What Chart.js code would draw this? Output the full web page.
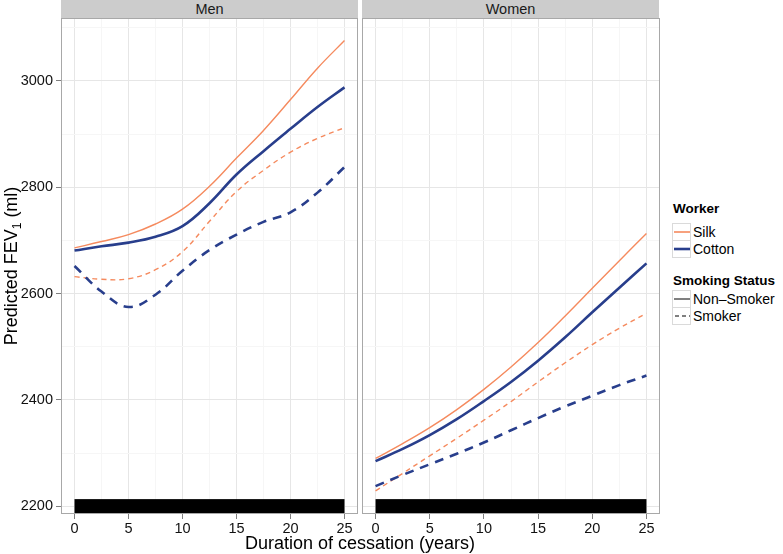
<!DOCTYPE html>
<html>
<head>
<meta charset="utf-8">
<script src="https://cdn.jsdelivr.net/npm/chart.js@4/dist/chart.umd.min.js"></script>
<style>
html,body{margin:0;padding:0;background:#fff;}
#wrap{position:relative;width:783px;height:554px;font-family:"Liberation Sans",Arial,Helvetica,sans-serif;color:#000;overflow:hidden;}
canvas{position:absolute;top:0;}
.strip{position:absolute;top:0;height:18px;background:#CCCCCC;text-align:center;font-size:14.5px;line-height:19px;color:#1a1a1a;}
#ytitle{position:absolute;left:-139.5px;top:255px;width:300px;height:22px;line-height:22px;text-align:center;font-size:18px;transform:rotate(-90deg);white-space:nowrap;}
#ytitle sub{font-size:12px;vertical-align:-4px;line-height:0;}
#xtitle{position:absolute;left:160px;top:532px;width:400px;height:22px;line-height:22px;text-align:center;font-size:18px;white-space:nowrap;}
#legend{position:absolute;left:660px;top:190px;}
</style>
</head>
<body>
<div id="wrap">
  <canvas id="men" width="360" height="554" style="left:0px;width:360px;height:554px"></canvas>
  <canvas id="women" width="298" height="554" style="left:362px;width:298px;height:554px"></canvas>
  <div class="strip" style="left:61px;width:297px">Men</div>
  <div class="strip" style="left:362px;width:297px">Women</div>
  <div id="ytitle">Predicted FEV<sub>1</sub> (ml)</div>
  <div id="xtitle">Duration of cessation (years)</div>
  <svg id="legend" width="123" height="150" xmlns="http://www.w3.org/2000/svg" font-family="Liberation Sans, Arial, Helvetica, sans-serif">
    <text x="13" y="23" font-size="13.5" font-weight="bold" fill="#000">Worker</text>
    <rect x="12.5" y="33.5" width="18" height="17" fill="#fff" stroke="#DADADA" stroke-width="1"/>
    <line x1="14" y1="42" x2="30" y2="42" stroke="#F58A5E" stroke-width="1.6"/>
    <text x="33" y="47" font-size="14" fill="#000">Silk</text>
    <rect x="12.5" y="50.5" width="18" height="17" fill="#fff" stroke="#DADADA" stroke-width="1"/>
    <line x1="14" y1="59" x2="30" y2="59" stroke="#283E8C" stroke-width="2.6"/>
    <text x="33" y="64" font-size="14" fill="#000">Cotton</text>
    <text x="13" y="95" font-size="13.5" font-weight="bold" fill="#000">Smoking Status</text>
    <rect x="12.5" y="100.5" width="18" height="17" fill="#fff" stroke="#DADADA" stroke-width="1"/>
    <line x1="14" y1="109" x2="30" y2="109" stroke="#000" stroke-width="1"/>
    <text x="33" y="114" font-size="14" fill="#000">Non–Smoker</text>
    <rect x="12.5" y="117.5" width="18" height="17" fill="#fff" stroke="#DADADA" stroke-width="1"/>
    <line x1="14" y1="126" x2="30" y2="126" stroke="#000" stroke-width="1" stroke-dasharray="4,3" stroke-dashoffset="-1"/>
    <text x="33" y="131" font-size="14" fill="#000">Smoker</text>
  </svg>
</div>
<script>
// ---- data ----
const xValues = [0, 2.5, 5, 7.5, 10, 12.5, 15, 17.5, 20, 22.5, 25];
const menSilkNonSmoker     = [2686, 2698, 2711, 2731, 2759, 2802, 2855, 2907, 2965, 3024, 3076];
const menCottonNonSmoker   = [2681, 2689, 2696, 2707, 2727, 2770, 2824, 2868, 2910, 2951, 2988];
const menSilkSmoker        = [2632, 2627, 2628, 2645, 2679, 2736, 2792, 2832, 2866, 2892, 2912];
const menCottonSmoker      = [2652, 2604, 2575, 2598, 2643, 2682, 2711, 2735, 2753, 2790, 2838];
const womenSilkNonSmoker   = [2290, 2318, 2348, 2382, 2420, 2462, 2508, 2558, 2610, 2662, 2713];
const womenCottonNonSmoker = [2285, 2308, 2334, 2364, 2398, 2434, 2474, 2518, 2565, 2611, 2657];
const womenSilkSmoker      = [2229, 2262, 2295, 2328, 2362, 2397, 2434, 2470, 2504, 2535, 2563];
const womenCottonSmoker    = [2238, 2259, 2279, 2299, 2320, 2343, 2366, 2388, 2408, 2428, 2446];
const rugRange = [0, 25];
const xTickLabels = [0, 5, 10, 15, 20, 25];
const xMinorTicks = [2.5, 7.5, 12.5, 17.5, 22.5];
const yTickLabels = [2200, 2400, 2600, 2800, 3000];
const yMinorTicks = [2300, 2500, 2700, 2900, 3100];
const xLimits = [-1.25, 26.25];
const yLimits = [2185.6, 3118.4];

const SILK = '#F58A5E';
const COTTON = '#283E8C';

function pts(arr){ return xValues.map((x,i)=>({x:x, y:arr[i]})); }
function datasets(silkNS, cottonNS, silkS, cottonS){
  const common = {pointRadius:0, pointHoverRadius:0, fill:false, tension:0.4, borderCapStyle:'butt', borderJoinStyle:'round'};
  return [
    Object.assign({label:'Cotton Smoker', data:pts(cottonS), borderColor:COTTON, borderWidth:2.6, borderDash:[9,7]}, common),
    Object.assign({label:'Silk Smoker', data:pts(silkS), borderColor:SILK, borderWidth:1.4, borderDash:[5,4]}, common),
    Object.assign({label:'Cotton Non-Smoker', data:pts(cottonNS), borderColor:COTTON, borderWidth:2.6}, common),
    Object.assign({label:'Silk Non-Smoker', data:pts(silkNS), borderColor:SILK, borderWidth:1.4}, common)
  ];
}

const panelPlugin = {
  id:'panel',
  afterDatasetsDraw(chart){
    const ctx = chart.ctx, a = chart.chartArea, xs = chart.scales.x;
    const h = 0.03*(a.bottom - a.top);
    const x0 = xs.getPixelForValue(rugRange[0]), x1 = xs.getPixelForValue(rugRange[1]);
    ctx.save();
    ctx.fillStyle = '#000';
    ctx.fillRect(x0, a.bottom - h, x1 - x0, h);
    ctx.restore();
  },
  afterDraw(chart){
    const ctx = chart.ctx, a = chart.chartArea;
    ctx.save();
    ctx.strokeStyle = '#A8A8A8';
    ctx.lineWidth = 1;
    ctx.strokeRect(Math.round(a.left)+0.5, Math.round(a.top)+0.5, Math.round(a.right-a.left)-1, Math.round(a.bottom-a.top)-1);
    ctx.restore();
  }
};

function isMajor(list, v){ return list.some(t => Math.abs(t - v) < 1e-6); }

function makeChart(id, ds, showY){
  return new Chart(document.getElementById(id), {
    type:'line',
    data:{datasets:ds},
    plugins:[panelPlugin],
    options:{
      responsive:false, animation:false, devicePixelRatio:1,
      layout:{padding:{top:18, right: showY ? 2 : 0, left:0, bottom:0}},
      plugins:{legend:{display:false}, tooltip:{enabled:false}},
      events:[],
      scales:{
        x:{
          type:'linear', min:xLimits[0], max:xLimits[1],
          afterBuildTicks: s => { s.ticks = xTickLabels.concat(xMinorTicks).sort((p,q)=>p-q).map(v=>({value:v})); },
          afterFit: s => { s.height = 40; },
          ticks:{autoSkip:false, maxRotation:0, padding:1, color:'#111', font:{family:'Liberation Sans, Arial, sans-serif', size:14.5},
                 callback: v => isMajor(xTickLabels, v) ? String(v) : ''},
          grid:{color: c => (c.tick && isMajor(xTickLabels, c.tick.value)) ? '#E6E6E6' : '#F6F6F6',
                tickColor: c => (c.tick && isMajor(xTickLabels, c.tick.value)) ? '#7F7F7F' : 'rgba(0,0,0,0)',
                tickLength:5, lineWidth:1},
          border:{display:false}
        },
        y:{
          type:'linear', min:yLimits[0], max:yLimits[1],
          afterBuildTicks: s => { s.ticks = yTickLabels.concat(yMinorTicks).sort((p,q)=>p-q).map(v=>({value:v})); },
          afterFit: s => { s.width = showY ? 61 : 0; },
          ticks:{display:showY, autoSkip:false, padding:3, color:'#111', font:{family:'Liberation Sans, Arial, sans-serif', size:14.5},
                 callback: v => isMajor(yTickLabels, v) ? String(v) : ''},
          grid:{color: c => (c.tick && isMajor(yTickLabels, c.tick.value)) ? '#E6E6E6' : '#F6F6F6',
                tickColor: c => (showY && c.tick && isMajor(yTickLabels, c.tick.value)) ? '#7F7F7F' : 'rgba(0,0,0,0)',
                drawTicks: showY, tickLength:5, lineWidth:1},
          border:{display:false}
        }
      }
    }
  });
}

makeChart('men', datasets(menSilkNonSmoker, menCottonNonSmoker, menSilkSmoker, menCottonSmoker), true);
makeChart('women', datasets(womenSilkNonSmoker, womenCottonNonSmoker, womenSilkSmoker, womenCottonSmoker), false);
</script>
</body>
</html>
